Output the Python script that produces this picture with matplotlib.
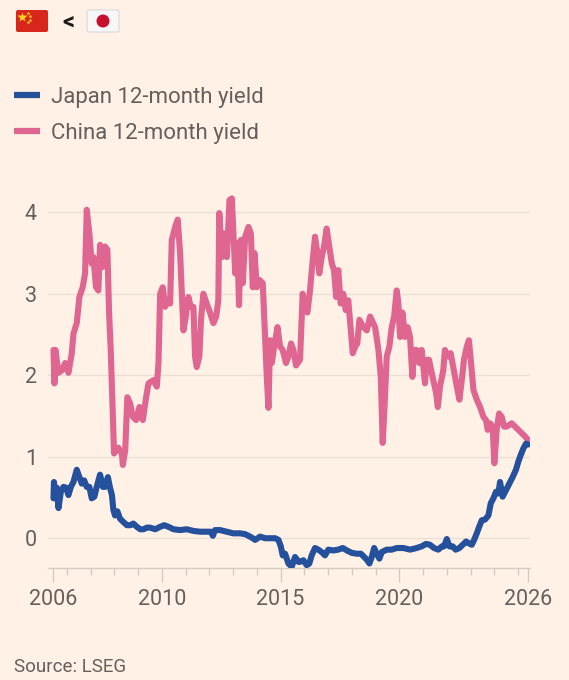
import matplotlib
matplotlib.use("Agg")
import matplotlib.pyplot as plt
from matplotlib.patches import FancyBboxPatch, Circle

# values (decimal years, percent)
china_years = [2005.44, 2005.48, 2005.52, 2005.65, 2005.79, 2005.93, 2006.07, 2006.21, 2006.28, 2006.42,
               2006.53, 2006.67, 2006.77, 2006.84, 2006.95, 2007.05, 2007.12, 2007.23, 2007.33, 2007.40,
               2007.52, 2007.61, 2007.71, 2007.78, 2007.85, 2007.94, 2007.99, 2008.17, 2008.32, 2008.36,
               2008.46, 2008.55, 2008.67, 2008.78, 2008.92, 2009.06, 2009.20, 2009.34, 2009.44, 2009.65,
               2009.79, 2009.86, 2009.93, 2010.04, 2010.14, 2010.25, 2010.35, 2010.42, 2010.56, 2010.67,
               2010.77, 2010.84, 2010.91, 2011.01, 2011.12, 2011.22, 2011.33, 2011.40, 2011.47, 2011.58,
               2011.65, 2011.75, 2011.89, 2012.03, 2012.17, 2012.29, 2012.38, 2012.42, 2012.53, 2012.62,
               2012.74, 2012.85, 2012.95, 2013.01, 2013.09, 2013.18, 2013.25, 2013.33, 2013.41, 2013.51,
               2013.65, 2013.75, 2013.83, 2013.90, 2014.00, 2014.11, 2014.25, 2014.35, 2014.42, 2014.49,
               2014.56, 2014.63, 2014.73, 2014.87, 2014.98, 2015.09, 2015.23, 2015.33, 2015.44, 2015.54,
               2015.65, 2015.82, 2015.93, 2016.03, 2016.13, 2016.24, 2016.34, 2016.45, 2016.55, 2016.63,
               2016.73, 2016.83, 2016.94, 2017.05, 2017.16, 2017.25, 2017.34, 2017.43, 2017.53, 2017.64,
               2017.74, 2017.85, 2017.96, 2018.04, 2018.14, 2018.23, 2018.32, 2018.49, 2018.63, 2018.77,
               2018.98, 2019.12, 2019.22, 2019.30, 2019.37, 2019.47, 2019.58, 2019.68, 2019.78, 2019.89,
               2019.96, 2020.03, 2020.13, 2020.24, 2020.35, 2020.45, 2020.55, 2020.63, 2020.73, 2020.84,
               2020.94, 2021.08, 2021.15, 2021.25, 2021.34, 2021.43, 2021.55, 2021.62, 2021.71, 2021.85,
               2021.92, 2022.06, 2022.16, 2022.27, 2022.42, 2022.53, 2022.63, 2022.72, 2022.84, 2022.93,
               2023.02, 2023.12, 2023.26, 2023.40, 2023.54, 2023.65, 2023.72, 2023.82, 2023.93, 2024.00,
               2024.10, 2024.20, 2024.31, 2024.41, 2024.52, 2024.73, 2024.87, 2025.01, 2025.15, 2025.29,
               2025.43]
china_yield = [2.31, 1.90, 2.31, 2.03, 2.06, 2.15, 2.03, 2.27, 2.51, 2.64,
               2.96, 3.08, 3.25, 4.03, 3.74, 3.37, 3.45, 3.08, 3.04, 3.60,
               3.33, 3.58, 3.54, 2.77, 2.31, 1.49, 1.04, 1.11, 1.04, 0.90,
               1.08, 1.73, 1.65, 1.49, 1.45, 1.61, 1.45, 1.73, 1.90, 1.94,
               1.86, 2.15, 3.00, 3.08, 2.84, 2.92, 2.88, 3.66, 3.82, 3.91,
               3.50, 3.04, 2.55, 2.72, 2.96, 2.84, 2.84, 2.23, 2.10, 2.23,
               2.68, 3.00, 2.88, 2.77, 2.64, 2.72, 2.92, 3.99, 3.45, 3.74,
               3.45, 4.15, 4.17, 3.78, 3.25, 3.62, 2.86, 3.66, 3.13, 3.70,
               3.82, 3.74, 3.08, 3.50, 3.08, 3.17, 3.13, 2.47, 1.98, 1.60,
               2.43, 2.15, 2.35, 2.59, 2.35, 2.31, 2.15, 2.23, 2.39, 2.31,
               2.12, 2.19, 3.00, 2.84, 2.77, 3.04, 3.37, 3.70, 3.50, 3.25,
               3.45, 3.58, 3.80, 3.58, 3.37, 3.29, 2.96, 3.29, 2.88, 3.00,
               2.80, 2.92, 2.55, 2.27, 2.35, 2.39, 2.68, 2.59, 2.55, 2.72,
               2.59, 2.31, 1.98, 1.17, 1.57, 2.23, 2.35, 2.59, 2.72, 3.04,
               2.88, 2.47, 2.77, 2.47, 2.59, 2.47, 1.98, 2.31, 2.31, 2.15,
               2.31, 1.90, 2.19, 2.19, 2.06, 1.94, 1.78, 1.61, 1.86, 2.06,
               2.31, 2.23, 2.27, 2.10, 1.86, 1.70, 1.94, 2.19, 2.35, 2.43,
               2.15, 1.82, 1.70, 1.61, 1.49, 1.45, 1.33, 1.41, 1.37, 0.92,
               1.33, 1.53, 1.49, 1.37, 1.37, 1.41, 1.37, 1.33, 1.29, 1.25,
               1.20]

japan_years = [2005.44, 2005.46, 2005.51, 2005.58, 2005.65, 2005.75, 2005.86, 2005.97, 2006.07, 2006.17,
               2006.28, 2006.42, 2006.53, 2006.63, 2006.73, 2006.84, 2006.95, 2007.05, 2007.16, 2007.26,
               2007.40, 2007.52, 2007.61, 2007.73, 2007.82, 2007.90, 2007.96, 2008.03, 2008.13, 2008.24,
               2008.38, 2008.53, 2008.67, 2008.80, 2008.95, 2009.09, 2009.23, 2009.37, 2009.51, 2009.72,
               2009.93, 2010.10, 2010.28, 2010.49, 2010.77, 2011.05, 2011.33, 2011.61, 2011.89, 2012.06,
               2012.15, 2012.24, 2012.45, 2012.74, 2013.01, 2013.30, 2013.51, 2013.72, 2013.93, 2014.14,
               2014.35, 2014.56, 2014.77, 2014.91, 2015.01, 2015.09, 2015.19, 2015.33, 2015.47, 2015.61,
               2015.75, 2015.82, 2015.96, 2016.10, 2016.21, 2016.31, 2016.45, 2016.59, 2016.73, 2016.87,
               2017.01, 2017.22, 2017.43, 2017.62, 2017.79, 2018.00, 2018.21, 2018.38, 2018.52, 2018.65,
               2018.74, 2018.84, 2018.94, 2019.05, 2019.16, 2019.26, 2019.47, 2019.68, 2019.89, 2020.17,
               2020.45, 2020.73, 2020.94, 2021.12, 2021.29, 2021.46, 2021.64, 2021.79, 2021.88, 2022.00,
               2022.11, 2022.25, 2022.37, 2022.53, 2022.67, 2022.81, 2022.91, 2023.05, 2023.15, 2023.26,
               2023.36, 2023.47, 2023.61, 2023.75, 2023.85, 2023.96, 2024.07, 2024.17, 2024.24, 2024.35,
               2024.49, 2024.63, 2024.77, 2024.91, 2025.01, 2025.11, 2025.22, 2025.33, 2025.43]
japan_yield = [0.49, 0.69, 0.49, 0.62, 0.37, 0.57, 0.63, 0.62, 0.53, 0.63,
               0.69, 0.84, 0.75, 0.67, 0.71, 0.63, 0.63, 0.49, 0.51, 0.63,
               0.78, 0.63, 0.63, 0.75, 0.62, 0.53, 0.35, 0.28, 0.33, 0.24,
               0.20, 0.16, 0.16, 0.18, 0.14, 0.11, 0.11, 0.13, 0.13, 0.11,
               0.14, 0.16, 0.14, 0.11, 0.10, 0.11, 0.09, 0.08, 0.08, 0.08,
               0.03, 0.10, 0.10, 0.08, 0.06, 0.06, 0.05, 0.02, -0.02, 0.02,
               0.00, 0.00, 0.00, -0.02, -0.10, -0.21, -0.19, -0.31, -0.35, -0.23,
               -0.29, -0.29, -0.27, -0.33, -0.31, -0.21, -0.12, -0.14, -0.17, -0.21,
               -0.14, -0.15, -0.14, -0.12, -0.15, -0.18, -0.19, -0.19, -0.23, -0.27,
               -0.31, -0.23, -0.12, -0.19, -0.25, -0.17, -0.14, -0.14, -0.12, -0.12,
               -0.14, -0.12, -0.10, -0.07, -0.08, -0.12, -0.14, -0.10, -0.10, -0.01,
               -0.10, -0.10, -0.14, -0.12, -0.08, -0.04, -0.06, -0.08, -0.02, 0.06,
               0.14, 0.22, 0.23, 0.28, 0.43, 0.49, 0.57, 0.55, 0.69, 0.51,
               0.59, 0.67, 0.75, 0.84, 0.94, 1.02, 1.10, 1.16, 1.15]

xtick_pos = [2005.44, 2010, 2015, 2020, 2025.43]
xtick_labels = ["2006", "2010", "2015", "2020", "2026"]
minor_years = list(range(2006, 2026))
yticks = [0, 1, 2, 3, 4]

BG = "#fff1e5"
TXT = "#66605c"
BLUE = "#25519c"
PINK = "#df6690"

plt.rcParams["font.family"] = ["Roboto", "DejaVu Sans"]

fig = plt.figure(figsize=(5.69, 6.80), dpi=100, facecolor=BG)

ax = fig.add_axes([0.0844, 0.1651, 0.847, 0.5647], facecolor=BG)
ax.plot(china_years, china_yield, color=PINK, lw=4.4, solid_joinstyle="round",
        solid_capstyle="round", label="China 12-month yield", zorder=3)
ax.plot(japan_years, japan_yield, color=BLUE, lw=4.4, solid_joinstyle="round",
        solid_capstyle="round", label="Japan 12-month yield", zorder=4)

ax.set_xlim(2005.21, 2025.50)
ax.set_ylim(-0.362, 4.35)

ax.set_yticks(yticks)
ax.set_yticklabels([str(v) for v in yticks])
ax.set_xticks(xtick_pos)
ax.set_xticklabels(xtick_labels)
ax.set_xticks(minor_years, minor=True)

ax.grid(axis="y", color="#eadfd4", lw=1, zorder=0)
for s in ["top", "right", "left"]:
    ax.spines[s].set_visible(False)
ax.spines["bottom"].set_color("#d6cbc1")
ax.spines["bottom"].set_linewidth(1)

ax.tick_params(axis="y", length=0, pad=8, labelsize=15.5, labelcolor=TXT)
ax.tick_params(axis="x", which="major", length=10, width=1, color="#d6cbc1",
               pad=5, labelsize=15.5, labelcolor=TXT)
ax.tick_params(axis="x", which="minor", length=5, width=1, color="#d6cbc1")

handles, labels = ax.get_legend_handles_labels()
leg = ax.legend(handles[::-1], labels[::-1], loc="upper left",
                bbox_to_anchor=(14 / 569, 1 - 87 / 680), bbox_transform=fig.transFigure,
                frameon=False, fontsize=16, handlelength=1.15, handletextpad=0.5,
                labelspacing=0.68, borderpad=0, borderaxespad=0)
for t in leg.get_texts():
    t.set_color(TXT)
for h in leg.get_lines():
    h.set_linewidth(4.5)
    h.set_solid_capstyle("butt")

# title: flag emoji drawn as shapes, with the "<" as text
ov = fig.add_axes([0, 0, 1, 1], facecolor="none")
ov.set_xlim(0, 569)
ov.set_ylim(680, 0)
ov.axis("off")
ov.add_patch(FancyBboxPatch((16, 10), 32, 22, boxstyle="round,pad=0,rounding_size=2",
                            fc="#d9261c", ec="none"))
ov.plot([22], [16.5], marker="*", ms=7, color="#ffd21f", mec="none")
ov.plot([28, 30.5, 30.5, 28], [13, 15.5, 19.5, 22], ls="none", marker="*", ms=3,
        color="#ffd21f", mec="none")
ov.add_patch(FancyBboxPatch((87, 10), 32, 22, boxstyle="round,pad=0,rounding_size=2",
                            fc="#f7f7f7", ec="#d8d8d8", lw=0.8))
ov.add_patch(Circle((103, 21), 6.5, fc="#c8102e", ec="none"))
fig.text(68 / 569, 1 - 22 / 680, "<", fontsize=17, fontweight="bold", color="#1a1a1a",
         ha="center", va="center")

fig.text(14 / 569, 1 - 667 / 680, "Source: LSEG", fontsize=13.5, color=TXT,
         ha="left", va="center")

fig.savefig("out.png", dpi=100, facecolor=BG)
